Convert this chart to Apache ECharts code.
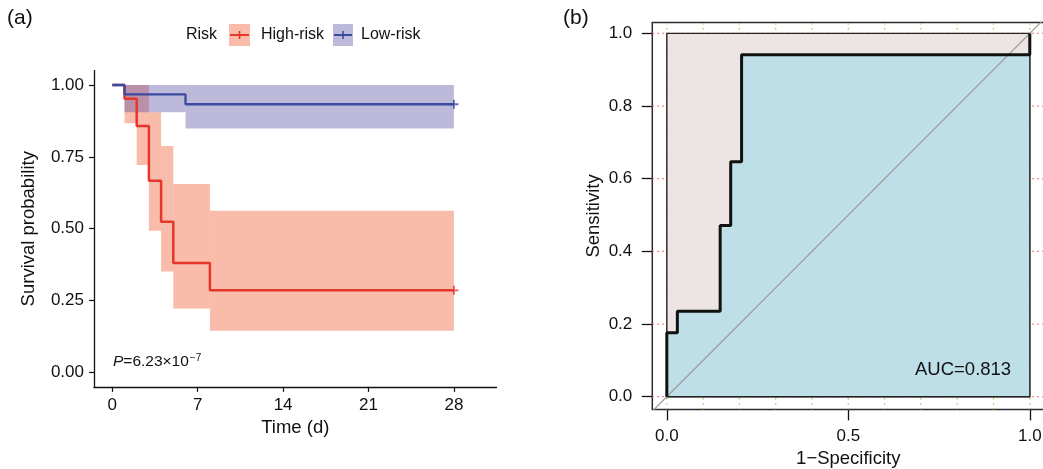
<!DOCTYPE html>
<html>
<head>
<meta charset="utf-8">
<title>KM and ROC</title>
<script src="https://cdn.jsdelivr.net/npm/echarts@6/dist/echarts.min.js"></script>
<style>
  html, body { margin: 0; padding: 0; background: #fff; }
  #chart { width: 1043px; height: 469px; }
</style>
</head>
<body>
<div id="chart"></div>
<script>
// survival curves (a)
const kmTicksX = [0, 7, 14, 21, 28]
const kmTicksY = [0, 0.25, 0.5, 0.75, 1]
const highTime = [0, 1, 2, 3, 4, 5, 8, 28]
const highSurv = [1, 0.952, 0.857, 0.667, 0.524, 0.381, 0.286, 0.286]
const lowTime = [0, 1, 6, 28]
const lowSurv = [1, 0.967, 0.933, 0.933]
// confidence bands, one step each
const highBandStart = [1, 2, 3, 4, 5, 8]
const highBandEnd = [2, 3, 4, 5, 8, 28]
const highLower = [0.867, 0.722, 0.493, 0.351, 0.223, 0.145]
const highUpper = [1, 1, 0.905, 0.788, 0.656, 0.563]
const lowBandStart = [1, 6]
const lowBandEnd = [6, 28]
const lowLower = [0.905, 0.849]
const lowUpper = [1, 1]
const pValueText = '6.23×10'

// ROC curve (b)
const rocFpr = [0, 0, 0.029, 0.029, 0.147, 0.147, 0.176, 0.176, 0.206, 0.206, 1, 1]
const rocTpr = [0, 0.176, 0.176, 0.235, 0.235, 0.471, 0.471, 0.647, 0.647, 0.941, 0.941, 1]
const rocTicksX = [0, 0.5, 1]
const rocTicksY = [0, 0.2, 0.4, 0.6, 0.8, 1]
const rocGridX = [0, 0.1, 0.2, 0.3, 0.4, 0.5, 0.6, 0.7, 0.8, 0.9, 1]
const aucText = 'AUC=0.813'

const FONT = 'Liberation Sans, Arial, sans-serif'
const RED = '#e5372c'
const BLUE = '#3a4a9e'
const RED_FILL = 'rgba(243,120,85,0.5)'
const BLUE_FILL = 'rgba(90,80,165,0.4)'
const TICK_SIZE = 17
const NAME_SIZE = 18.5

const chart = echarts.init(document.getElementById('chart'))

function bandData (start, end, lower, upper) {
  return start.map((s, i) => [s, end[i], lower[i], upper[i]])
}

function renderBand (color) {
  return function (params, api) {
    const p0 = api.coord([api.value(0), api.value(3)])
    const p1 = api.coord([api.value(1), api.value(2)])
    return {
      type: 'rect',
      shape: { x: p0[0], y: p0[1], width: p1[0] - p0[0], height: p1[1] - p0[1] },
      style: { fill: color }
    }
  }
}

const plusSymbol = 'path://M3.2,0h1.6v3.2h3.2v1.6h-3.2v3.2h-1.6v-3.2h-3.2v-1.6h3.2z'

const rocXAxisRange = [-0.04, 1.04]
const rocYAxisRange = [-0.035, 1.03]

chart.setOption({
  animation: false,
  textStyle: { fontFamily: FONT },
  grid: [
    { left: 94, top: 70.6, width: 402.6, height: 316.3, outerBoundsMode: 'none' },
    { left: 652.3, top: 22.5, width: 392, height: 386.9, outerBoundsMode: 'none', show: true, borderColor: '#2b2b2b', borderWidth: 1.5, backgroundColor: 'transparent' }
  ],
  xAxis: [{
    gridIndex: 0,
    type: 'value',
    min: -1.5,
    max: 31.5,
    name: 'Time (d)',
    nameLocation: 'middle',
    nameGap: 27,
    nameTextStyle: { fontSize: NAME_SIZE, color: '#111' },
    axisLine: { onZero: false, lineStyle: { color: '#111', width: 1.3 } },
    axisTick: { customValues: kmTicksX, length: 5, lineStyle: { color: '#111', width: 1.2 } },
    axisLabel: { customValues: kmTicksX, fontSize: TICK_SIZE, color: '#111', margin: 10 },
    splitLine: { show: false }
  }, {
    gridIndex: 1,
    type: 'value',
    min: rocXAxisRange[0],
    max: rocXAxisRange[1],
    name: '1−Specificity',
    nameLocation: 'middle',
    nameGap: 36,
    nameTextStyle: { fontSize: NAME_SIZE, color: '#111' },
    axisLine: { show: false, onZero: false },
    axisTick: { customValues: rocTicksX, length: 11, lineStyle: { color: '#111', width: 1.3 } },
    axisLabel: { customValues: rocTicksX, fontSize: TICK_SIZE, color: '#111', margin: 18, formatter: v => v.toFixed(1) },
    splitLine: { show: false }
  }],
  yAxis: [{
    gridIndex: 0,
    type: 'value',
    min: -0.05,
    max: 1.05,
    name: 'Survival probability',
    nameLocation: 'middle',
    nameGap: 56,
    nameTextStyle: { fontSize: NAME_SIZE, color: '#111' },
    axisLine: { show: true, onZero: false, lineStyle: { color: '#111', width: 1.3 } },
    axisTick: { show: true, customValues: kmTicksY, length: 5, lineStyle: { color: '#111', width: 1.2 } },
    axisLabel: { customValues: kmTicksY, fontSize: TICK_SIZE, color: '#111', margin: 10, formatter: v => v.toFixed(2) },
    splitLine: { show: false }
  }, {
    gridIndex: 1,
    type: 'value',
    min: rocYAxisRange[0],
    max: rocYAxisRange[1],
    name: 'Sensitivity',
    nameLocation: 'middle',
    nameGap: 49,
    nameTextStyle: { fontSize: NAME_SIZE, color: '#111' },
    axisLine: { show: false, onZero: false },
    axisTick: { show: true, customValues: rocTicksY, length: 10.5, lineStyle: { color: '#111', width: 1.3 } },
    axisLabel: { customValues: rocTicksY, fontSize: TICK_SIZE, color: '#111', margin: 20, formatter: v => v.toFixed(1) },
    splitLine: { show: false }
  }],
  graphic: [
    { type: 'text', z: 100, left: 7, top: 8, style: { text: '(a)', fontSize: 21, fill: '#111', fontFamily: FONT } },
    { type: 'text', z: 100, left: 563, top: 8, style: { text: '(b)', fontSize: 21, fill: '#111', fontFamily: FONT } },
    // legend
    { type: 'text', z: 100, left: 186, top: 27, style: { text: 'Risk', fontSize: 16, fill: '#111', fontFamily: FONT } },
    { type: 'rect', z: 100, shape: { x: 229, y: 24, width: 21, height: 22 }, style: { fill: RED_FILL } },
    { type: 'line', z: 101, shape: { x1: 230, y1: 35, x2: 249, y2: 35 }, style: { stroke: RED, lineWidth: 2 } },
    { type: 'line', z: 101, shape: { x1: 239.5, y1: 31, x2: 239.5, y2: 39 }, style: { stroke: RED, lineWidth: 1.6 } },
    { type: 'text', z: 100, left: 261, top: 27, style: { text: 'High-risk', fontSize: 16, fill: '#111', fontFamily: FONT } },
    { type: 'rect', z: 100, shape: { x: 333, y: 24, width: 20, height: 22 }, style: { fill: BLUE_FILL } },
    { type: 'line', z: 101, shape: { x1: 334, y1: 35, x2: 352, y2: 35 }, style: { stroke: BLUE, lineWidth: 2 } },
    { type: 'line', z: 101, shape: { x1: 343, y1: 31, x2: 343, y2: 39 }, style: { stroke: BLUE, lineWidth: 1.6 } },
    { type: 'text', z: 100, left: 361, top: 27, style: { text: 'Low-risk', fontSize: 16, fill: '#111', fontFamily: FONT } },
    // p value
    {
      type: 'text',
      z: 100,
      left: 113,
      top: 353,
      style: {
        text: '{i|P}{n|=' + pValueText + '}{s|−7}',
        fontFamily: FONT,
        rich: {
          i: { fontSize: 15.5, fontStyle: 'italic', fill: '#111', fontFamily: FONT },
          n: { fontSize: 15.5, fill: '#111', fontFamily: FONT },
          s: { fontSize: 10, fill: '#111', fontFamily: FONT, verticalAlign: 'top', padding: [0, 0, 8, 1] }
        }
      }
    },
    { type: 'text', z: 100, left: 915, top: 360, style: { text: aucText, fontSize: 18.5, fill: '#111', fontFamily: FONT } }
  ],
  series: [
    // (a) bands
    {
      type: 'custom',
      xAxisIndex: 0,
      yAxisIndex: 0,
      renderItem: renderBand(RED_FILL),
      encode: { x: [0, 1], y: [2, 3] },
      data: bandData(highBandStart, highBandEnd, highLower, highUpper),
      silent: true
    },
    {
      type: 'custom',
      xAxisIndex: 0,
      yAxisIndex: 0,
      renderItem: renderBand(BLUE_FILL),
      encode: { x: [0, 1], y: [2, 3] },
      data: bandData(lowBandStart, lowBandEnd, lowLower, lowUpper),
      silent: true
    },
    // (a) step lines
    {
      name: 'High-risk',
      type: 'line',
      xAxisIndex: 0,
      yAxisIndex: 0,
      step: 'end',
      showSymbol: false,
      lineStyle: { color: RED, width: 2.5 },
      data: highTime.map((t, i) => [t, highSurv[i]])
    },
    {
      name: 'Low-risk',
      type: 'line',
      xAxisIndex: 0,
      yAxisIndex: 0,
      step: 'end',
      showSymbol: false,
      lineStyle: { color: BLUE, width: 2.3 },
      data: lowTime.map((t, i) => [t, lowSurv[i]])
    },
    {
      type: 'scatter',
      xAxisIndex: 0,
      yAxisIndex: 0,
      symbol: plusSymbol,
      symbolSize: 9,
      itemStyle: { color: RED },
      data: [[highTime[highTime.length - 1], highSurv[highSurv.length - 1]]]
    },
    {
      type: 'scatter',
      xAxisIndex: 0,
      yAxisIndex: 0,
      symbol: plusSymbol,
      symbolSize: 9,
      itemStyle: { color: BLUE },
      data: [[lowTime[lowTime.length - 1], lowSurv[lowSurv.length - 1]]]
    },
    // (b) dotted grid, mostly hidden under the polygons
    {
      type: 'custom',
      xAxisIndex: 1,
      yAxisIndex: 1,
      silent: true,
      data: [0],
      renderItem: function (params, api) {
        const children = []
        rocTicksY.forEach(v => {
          const a = api.coord([rocXAxisRange[0], v])
          const b = api.coord([rocXAxisRange[1], v])
          children.push({ type: 'line', shape: { x1: a[0], y1: a[1], x2: b[0], y2: b[1] }, style: { stroke: '#ee6666', lineWidth: 1.2, lineDash: [1.5, 3.5] } })
        })
        rocGridX.forEach(v => {
          const a = api.coord([v, rocYAxisRange[0]])
          const b = api.coord([v, rocYAxisRange[1]])
          children.push({ type: 'line', shape: { x1: a[0], y1: a[1], x2: b[0], y2: b[1] }, style: { stroke: '#99cc55', lineWidth: 1.2, lineDash: [1.5, 3.5] } })
        })
        return { type: 'group', children }
      }
    },
    // (b) max AUC square
    {
      type: 'custom',
      xAxisIndex: 1,
      yAxisIndex: 1,
      silent: true,
      data: [0],
      renderItem: function (params, api) {
        const pts = [[0, 0], [0, 1], [1, 1], [1, 0]].map(p => api.coord(p))
        return { type: 'polygon', shape: { points: pts }, style: { fill: '#ede5e3', stroke: '#222', lineWidth: 1.4 } }
      }
    },
    // (b) area under the ROC curve
    {
      type: 'custom',
      xAxisIndex: 1,
      yAxisIndex: 1,
      silent: true,
      data: [0],
      renderItem: function (params, api) {
        const pts = rocFpr.map((x, i) => api.coord([x, rocTpr[i]]))
        pts.push(api.coord([1, 0]))
        return { type: 'polygon', shape: { points: pts }, style: { fill: '#bedfe8', stroke: '#222', lineWidth: 1.2 } }
      }
    },
    // (b) chance line
    {
      type: 'line',
      xAxisIndex: 1,
      yAxisIndex: 1,
      showSymbol: false,
      silent: true,
      lineStyle: { color: '#9a9a9a', width: 1.2 },
      data: [[rocXAxisRange[0], rocXAxisRange[0]], [rocXAxisRange[1], rocXAxisRange[1]]]
    },
    // (b) ROC curve
    {
      type: 'line',
      xAxisIndex: 1,
      yAxisIndex: 1,
      showSymbol: false,
      lineStyle: { color: '#111', width: 3 },
      data: rocFpr.map((x, i) => [x, rocTpr[i]])
    }
  ]
})
</script>
</body>
</html>
